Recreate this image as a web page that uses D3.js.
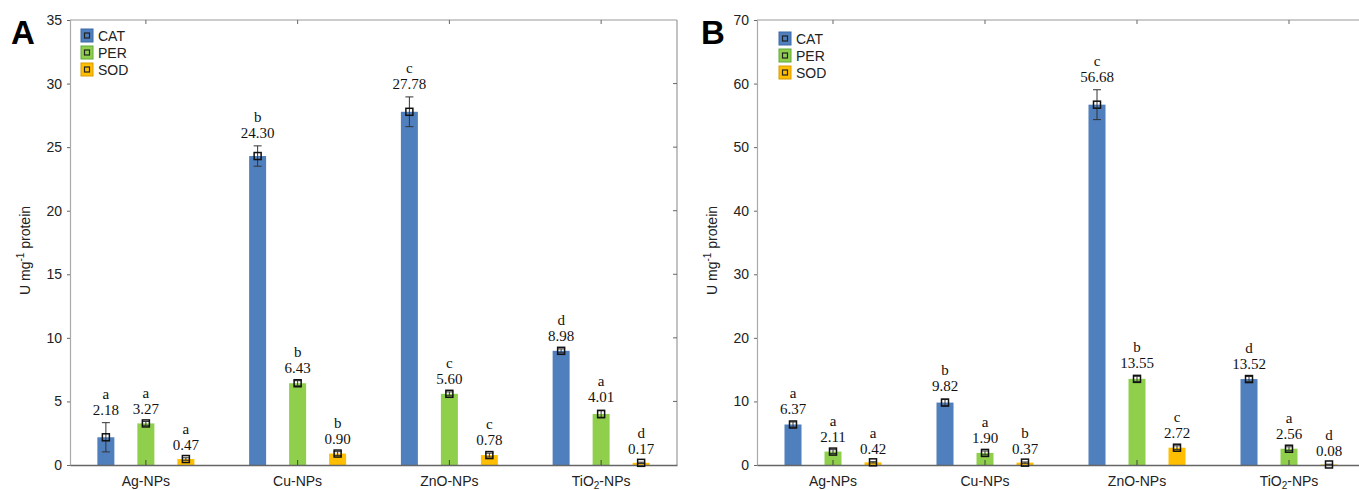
<!DOCTYPE html>
<html>
<head>
<meta charset="utf-8">
<script src="https://cdn.jsdelivr.net/npm/d3@7"></script>
<style>
  html, body { margin: 0; padding: 0; background: #fff; }
  svg { display: block; }
  .tick-label { font-family: "Liberation Sans", Arial, sans-serif; font-size: 14px; fill: #222; }
  .value-label { font-family: "Liberation Serif", "Times New Roman", serif; font-size: 15px; fill: #111; }
</style>
</head>
<body>
<svg id="chart" width="1359" height="490"></svg>
<script>
// Nanoparticle groups and enzyme series
const categories = ["Ag-NPs", "Cu-NPs", "ZnO-NPs", "TiO2-NPs"];
const series = ["CAT", "PER", "SOD"];
const seriesColors = ["#4f7fbd", "#8fcf4c", "#ffbf00"];
const swatchStroke = ["#3a6aa5", "#5fa83a", "#d99a00"];

// Panel A: activity means (U mg-1 protein), error half-widths, significance letters
const catA = [2.18, 24.30, 27.78, 8.98];
const perA = [3.27, 6.43, 5.60, 4.01];
const sodA = [0.47, 0.90, 0.78, 0.17];
const catErrA = [1.15, 0.80, 1.17, 0.15];
const perErrA = [0.15, 0.20, 0.15, 0.30];
const sodErrA = [0.10, 0.15, 0.15, 0.05];
const catLetA = ["a", "b", "c", "d"];
const perLetA = ["a", "b", "c", "a"];
const sodLetA = ["a", "b", "c", "d"];
const ticksA = [0, 5, 10, 15, 20, 25, 30, 35];

// Panel B
const catB = [6.37, 9.82, 56.68, 13.52];
const perB = [2.11, 1.90, 13.55, 2.56];
const sodB = [0.42, 0.37, 2.72, 0.08];
const catErrB = [0.40, 0.50, 2.35, 0.40];
const perErrB = [0.30, 0.30, 0.40, 0.30];
const sodErrB = [0.10, 0.10, 0.30, 0.05];
const catLetB = ["a", "b", "c", "d"];
const perLetB = ["a", "a", "b", "a"];
const sodLetB = ["a", "b", "c", "d"];
const ticksB = [0, 10, 20, 30, 40, 50, 60, 70];

const svg = d3.select("#chart");

function buildRows(vals, errs, lets) {
  const rows = [];
  categories.forEach((c, i) => {
    series.forEach((s, j) => {
      rows.push({ cat: c, ser: s, si: j, value: vals[j][i], err: errs[j][i], letter: lets[j][i] });
    });
  });
  return rows;
}

function drawCatLabel(sel, name) {
  if (name === "TiO2-NPs") {
    sel.text(null);
    sel.append("tspan").text("TiO");
    sel.append("tspan").attr("font-size", "10px").attr("dy", 3).text("2");
    sel.append("tspan").attr("dy", -3).text("-NPs");
  } else {
    sel.text(name);
  }
}

function panel(opts) {
  const { left, top, bottom, width, maxY, ticks, rows, tag, legendX, legendY } = opts;
  const g = svg.append("g");
  const right = left + width;

  const x = d3.scaleBand().domain(categories).range([left, right]).padding(0);
  const off = d3.scalePoint().domain(series).range([-40, 40]);
  const y = d3.scaleLinear().domain([0, maxY]).range([bottom, top]);
  const barW = 17;
  const cx = d => x(d.cat) + x.bandwidth() / 2 + off(d.ser);

  // frame: top and right borders with inward ticks
  g.append("line").attr("x1", left).attr("x2", right).attr("y1", top).attr("y2", top)
    .attr("stroke", "#9a9a9a").attr("stroke-width", 1.2);
  g.append("line").attr("x1", right).attr("x2", right).attr("y1", top).attr("y2", bottom)
    .attr("stroke", "#9a9a9a").attr("stroke-width", 1.2);
  g.selectAll(".ttick").data(categories).join("line")
    .attr("x1", d => x(d) + x.bandwidth() / 2).attr("x2", d => x(d) + x.bandwidth() / 2)
    .attr("y1", top).attr("y2", top + 4).attr("stroke", "#666");
  g.selectAll(".rtick").data(ticks.slice(1, -1)).join("line")
    .attr("x1", right).attr("x2", right - 4)
    .attr("y1", d => y(d)).attr("y2", d => y(d)).attr("stroke", "#666");

  // left axis
  const yAxis = d3.axisLeft(y).tickValues(ticks).tickSize(3).tickPadding(5).tickFormat(d3.format("d"));
  const ya = g.append("g").attr("transform", `translate(${left},0)`).call(yAxis);
  ya.select(".domain").attr("stroke", "#aaaaaa").attr("stroke-width", 1.2);
  ya.selectAll(".tick line").attr("stroke", "#666");
  ya.selectAll(".tick text").attr("class", "tick-label").attr("font-size", null).attr("font-family", null).attr("fill", null);

  // bars
  g.selectAll(".bar").data(rows).join("rect")
    .attr("x", d => cx(d) - barW / 2)
    .attr("y", d => y(d.value))
    .attr("width", barW)
    .attr("height", d => y(0) - y(d.value))
    .attr("fill", d => seriesColors[d.si]);

  // bottom axis
  const xAxis = d3.axisBottom(x).tickSize(0).tickFormat("");
  const xa = g.append("g").attr("transform", `translate(0,${bottom})`).call(xAxis);
  xa.select(".domain").attr("stroke", "#666").attr("stroke-width", 1.4);
  g.selectAll(".btick").data(categories).join("line")
    .attr("x1", d => x(d) + x.bandwidth() / 2).attr("x2", d => x(d) + x.bandwidth() / 2)
    .attr("y1", bottom).attr("y2", bottom - 5).attr("stroke", "#444");
  g.selectAll(".catlabel").data(categories).join("text")
    .attr("class", "tick-label")
    .attr("font-size", "14.5px")
    .attr("x", d => x(d) + x.bandwidth() / 2)
    .attr("y", bottom + 21)
    .attr("text-anchor", "middle")
    .each(function (d) { drawCatLabel(d3.select(this), d); });

  // error bars
  const eb = g.selectAll(".err").data(rows).join("g").attr("stroke", "#333").attr("stroke-width", 1);
  eb.append("line").attr("x1", cx).attr("x2", cx)
    .attr("y1", d => y(d.value + d.err)).attr("y2", d => y(Math.max(0, d.value - d.err)));
  eb.append("line").attr("x1", d => cx(d) - 4).attr("x2", d => cx(d) + 4)
    .attr("y1", d => y(d.value + d.err)).attr("y2", d => y(d.value + d.err));
  eb.append("line").attr("x1", d => cx(d) - 4).attr("x2", d => cx(d) + 4)
    .attr("y1", d => y(Math.max(0, d.value - d.err))).attr("y2", d => y(Math.max(0, d.value - d.err)));

  // mean markers
  g.selectAll(".mk").data(rows).join("rect")
    .attr("x", d => cx(d) - 3.5).attr("y", d => y(d.value) - 3.5)
    .attr("width", 7).attr("height", 7)
    .attr("fill", "none").attr("stroke", "#111").attr("stroke-width", 1.5);

  // value and letter labels
  g.selectAll(".vl").data(rows).join("text")
    .attr("class", "value-label")
    .attr("x", cx).attr("y", d => y(d.value + d.err) - 8)
    .attr("text-anchor", "middle")
    .text(d => d.value.toFixed(2));
  g.selectAll(".ll").data(rows).join("text")
    .attr("class", "value-label")
    .attr("x", cx).attr("y", d => y(d.value + d.err) - 24)
    .attr("text-anchor", "middle")
    .text(d => d.letter);

  // y title
  const yt = g.append("text").attr("class", "tick-label")
    .attr("font-size", "15px")
    .attr("transform", `translate(${left - 40},${(top + bottom) / 2 + 8}) rotate(-90)`)
    .attr("text-anchor", "middle");
  yt.append("tspan").text("U mg");
  yt.append("tspan").attr("font-size", "10px").attr("dy", -6).text("-1");
  yt.append("tspan").attr("dy", 6).text(" protein");

  // legend
  const lg = g.append("g").attr("transform", `translate(${legendX},${legendY})`);
  series.forEach((s, j) => {
    const row = lg.append("g").attr("transform", `translate(0,${j * 17})`);
    row.append("rect").attr("x", 0).attr("y", 0).attr("width", 12).attr("height", 13)
      .attr("fill", seriesColors[j]).attr("stroke", swatchStroke[j]).attr("stroke-width", 1);
    row.append("rect").attr("x", 3.5).attr("y", 4).attr("width", 5).attr("height", 5)
      .attr("fill", "none").attr("stroke", "#222").attr("stroke-width", 1.2);
    row.append("text").attr("class", "tick-label").attr("font-size", "14.5px").attr("x", 17).attr("y", 11.5).text(s);
  });

  // panel tag
  g.append("text").attr("x", opts.tagX).attr("y", 44)
    .attr("font-family", "'Liberation Sans', Arial, sans-serif")
    .attr("font-weight", "bold").attr("font-size", "33px").attr("fill", "#000")
    .text(tag);
}

panel({
  left: 70, top: 20, bottom: 465, width: 607, maxY: 35, ticks: ticksA,
  rows: buildRows([catA, perA, sodA], [catErrA, perErrA, sodErrA], [catLetA, perLetA, sodLetA]),
  tag: "A", tagX: 11, legendX: 81, legendY: 29
});

panel({
  left: 757, top: 20, bottom: 465, width: 608, maxY: 70, ticks: ticksB,
  rows: buildRows([catB, perB, sodB], [catErrB, perErrB, sodErrB], [catLetB, perLetB, sodLetB]),
  tag: "B", tagX: 701, legendX: 779, legendY: 32
});
</script>
</body>
</html>
